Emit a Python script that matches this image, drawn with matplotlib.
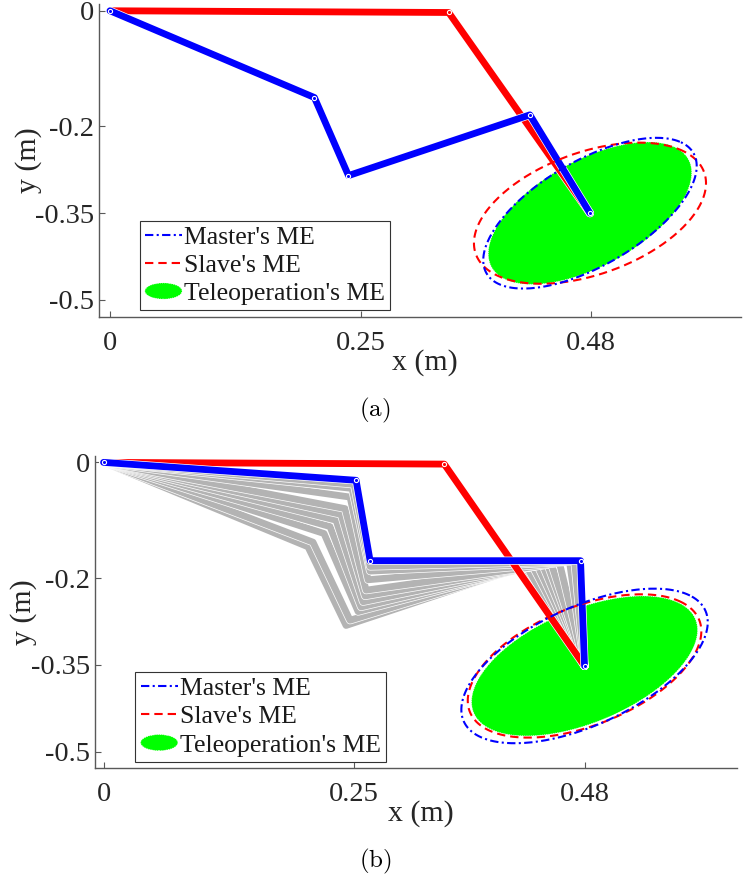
import numpy as np
import matplotlib.pyplot as plt
import matplotlib.patheffects as pe
from matplotlib.patches import Ellipse, Polygon
from matplotlib.legend_handler import HandlerPatch

plt.rcParams['font.family'] = ['Liberation Serif', 'DejaVu Serif']
plt.rcParams['mathtext.fontset'] = 'cm'

# joint positions of the arms (m)
master_a_x = [0, 0.204, 0.238, 0.419, 0.479]
master_a_y = [0, -0.150, -0.285, -0.180, -0.350]
slave_a_x = [0, 0.338, 0.479]
slave_a_y = [0, -0.003, -0.350]

master_b_x = [0, 0.252, 0.266, 0.476, 0.480]
master_b_y = [0, -0.031, -0.170, -0.170, -0.352]
slave_b_x = [0, 0.340, 0.480]
slave_b_y = [0, -0.003, -0.352]

# master poses passed through on the way to the final pose
path_x = [
    [0, 0.204, 0.242, 0.419, 0.480],
    [0, 0.209, 0.246, 0.422, 0.480],
    [0, 0.220, 0.254, 0.428, 0.480],
    [0, 0.226, 0.257, 0.433, 0.480],
    [0, 0.232, 0.259, 0.438, 0.480],
    [0, 0.237, 0.261, 0.443, 0.480],
    [0, 0.241, 0.262, 0.447, 0.480],
    [0, 0.246, 0.264, 0.455, 0.480],
    [0, 0.248, 0.266, 0.465, 0.480],
    [0, 0.250, 0.266, 0.470, 0.480],
]
path_y = [
    [0, -0.146, -0.282, -0.180, -0.352],
    [0, -0.138, -0.273, -0.180, -0.352],
    [0, -0.123, -0.258, -0.179, -0.352],
    [0, -0.111, -0.250, -0.178, -0.352],
    [0, -0.100, -0.241, -0.177, -0.352],
    [0, -0.090, -0.231, -0.176, -0.352],
    [0, -0.080, -0.221, -0.176, -0.352],
    [0, -0.060, -0.203, -0.174, -0.352],
    [0, -0.045, -0.188, -0.172, -0.352],
    [0, -0.038, -0.180, -0.171, -0.352],
]

# manipulability ellipses: centre x, centre y, semi-axis a, semi-axis b, angle (deg)
ell_a_master = [0.479, -0.350, 0.1526, 0.0710, 54.0]
ell_a_slave = [0.479, -0.350, 0.1421, 0.0900, 48.5]
ell_a_tele = [0.479, -0.350, 0.1422, 0.0722, 54.4]
ell_b_master = [0.480, -0.352, 0.1609, 0.0842, 49.2]
ell_b_slave = [0.480, -0.352, 0.1467, 0.0861, 48.6]
ell_b_tele = [0.480, -0.352, 0.1440, 0.0813, 48.9]

xticks = [0, 0.25, 0.48]
xtick_labels = ['0', '0.25', '0.48']
yticks = [0, -0.2, -0.35, -0.5]
ytick_labels = ['0', '-0.2', '-0.35', '-0.5']


def ellipse_xy(p):
    cx, cy, a, b, ang = p
    t = np.linspace(0, 2 * np.pi, 300)
    th = np.deg2rad(ang)
    x = cx + a * np.cos(t) * np.cos(th) - b * np.sin(t) * np.sin(th)
    y = cy + a * np.cos(t) * np.sin(th) + b * np.sin(t) * np.cos(th)
    return x, y


def draw_arm(ax, x, y, color, z, joints=True):
    ax.plot(x, y, color=color, lw=4.9, solid_capstyle='round',
            solid_joinstyle='round', zorder=z,
            path_effects=[pe.Stroke(linewidth=5.9, foreground='white'), pe.Normal()])
    if joints:
        ax.plot(x, y, 'o', ms=3, mfc=color, mec='white', mew=0.8, zorder=z + 0.1)


def legend_ellipse(legend, orig_handle, xdescent, ydescent, width, height, fontsize):
    return Ellipse((0.5 * width - 0.5 * xdescent, 0.5 * height - 0.5 * ydescent),
                   width, height * 0.9)


def draw_panel(ax, master_x, master_y, slave_x, slave_y, e_master, e_slave, e_tele,
               xlim, grey=None):
    gx, gy = ellipse_xy(e_tele)
    green = Polygon(np.column_stack([gx, gy]), closed=True, facecolor='#00ff00',
                    edgecolor='white', lw=0.6, ls=':', zorder=1, label="Teleoperation's ME")
    ax.add_patch(green)

    if grey is not None:
        for px, py in zip(*grey):
            draw_arm(ax, px, py, '#b3b3b3', 2, joints=False)

    draw_arm(ax, slave_x, slave_y, '#ff0000', 3)
    draw_arm(ax, master_x, master_y, '#0000ff', 4)

    mx, my = ellipse_xy(e_master)
    sx, sy = ellipse_xy(e_slave)
    l_slave, = ax.plot(sx, sy, color='#ff0000', lw=1.5, ls=(0, (4, 2.4)), zorder=6,
                       label="Slave's ME")
    l_master, = ax.plot(mx, my, color='#0000ff', lw=1.5, ls=(0, (4, 1.6, 1, 1.6)),
                        zorder=7, label="Master's ME")

    ax.set_xlim(*xlim)
    ax.set_ylim(-0.529, 0.0116)
    ax.set_xticks(xticks)
    ax.set_xticklabels(xtick_labels)
    ax.set_yticks(yticks)
    ax.set_yticklabels(ytick_labels)
    ax.spines['top'].set_visible(False)
    ax.spines['right'].set_visible(False)
    for s in ('left', 'bottom'):
        ax.spines[s].set_color('0.35')
        ax.spines[s].set_linewidth(1.0)
    ax.tick_params(direction='in', length=4, width=0.8, color='0.35',
                   labelsize=20.5, labelcolor='0.15')
    ax.tick_params(axis='x', pad=10)
    ax.tick_params(axis='y', pad=3.5)
    ax.set_xlabel('x (m)', fontsize=21.5, color='0.15')
    ax.set_ylabel('y (m)', fontsize=21.5, color='0.15')
    ax.xaxis.set_label_coords(0.507, -0.102)
    ax.yaxis.set_label_coords(-0.09, 0.5)

    leg = ax.legend(handles=[l_master, l_slave, green], loc='lower left',
                    bbox_to_anchor=(0.063, 0.021), borderaxespad=0, fontsize=18.5,
                    handlelength=1.45, handletextpad=0.08, labelspacing=0.2,
                    borderpad=0.2, fancybox=False, framealpha=1,
                    handler_map={green: HandlerPatch(patch_func=legend_ellipse)})
    leg.get_frame().set_edgecolor('0.2')
    leg.get_frame().set_linewidth(0.8)
    for t in leg.get_texts():
        t.set_color('0.1')
    leg.set_zorder(10)


fig = plt.figure(figsize=(7.43, 8.81), dpi=100)
ax1 = fig.add_axes([0.1336, 0.6405, 0.8637, 0.3549])
ax2 = fig.add_axes([0.1279, 0.1279, 0.8637, 0.3549])

draw_panel(ax1, master_a_x, master_a_y, slave_a_x, slave_a_y,
           ell_a_master, ell_a_slave, ell_a_tele, (-0.0107, 0.6297))
draw_panel(ax2, master_b_x, master_b_y, slave_b_x, slave_b_y,
           ell_b_master, ell_b_slave, ell_b_tele, (-0.0085, 0.6319),
           grey=(path_x, path_y))

fig.text(0.505, 1 - 410 / 881, r'$\mathrm{(a)}$', fontsize=18, ha='center', va='center')
fig.text(0.505, 1 - 861 / 881, r'$\mathrm{(b)}$', fontsize=18, ha='center', va='center')

fig.savefig('out.png', dpi=100)
